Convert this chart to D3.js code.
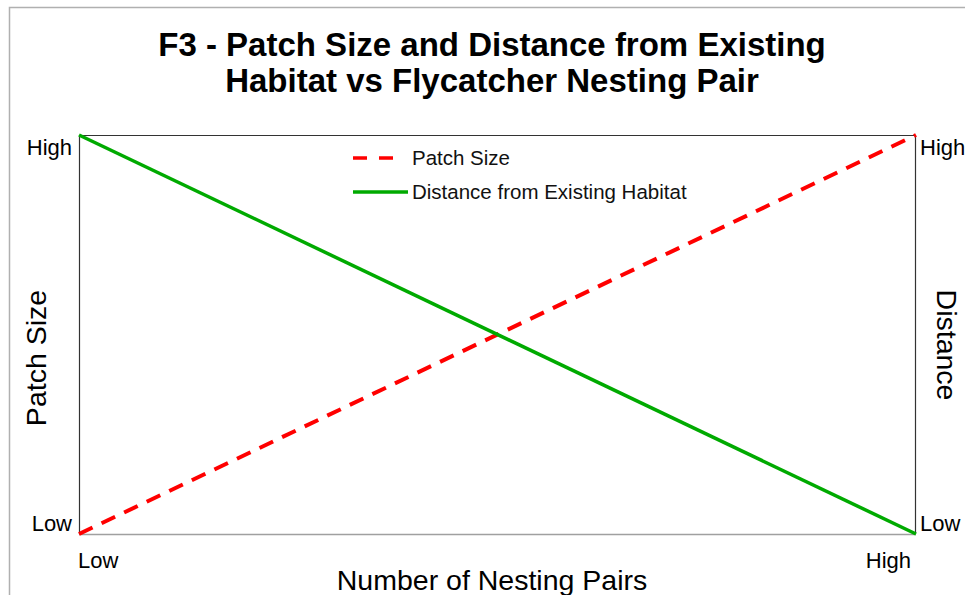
<!DOCTYPE html>
<html>
<head>
<meta charset="utf-8">
<script src="https://cdn.jsdelivr.net/npm/d3@7"></script>
<style>
  html, body { margin: 0; padding: 0; background: #fff; }
  svg { display: block; font-family: "Liberation Sans", Arial, sans-serif; }
</style>
</head>
<body>
<svg id="chart" width="965" height="595"></svg>
<script>
// Categories along the x axis and the two relationships plotted against them
const categories = ["Low", "High"];
const patchSize = [0, 1];
const distance = [1, 0];
const yTickLabels = ["Low", "High"];
const seriesNames = ["Patch Size", "Distance from Existing Habitat"];
const titleLines = ["F3 - Patch Size and Distance from Existing", "Habitat vs Flycatcher Nesting Pair"];

const svg = d3.select("#chart");
const W = 965, H = 595;
const plot = { left: 79, top: 135, right: 916, bottom: 534 };

// outer frame
svg.append("rect")
  .attr("x", 9.5).attr("y", 7.5)
  .attr("width", W + 20).attr("height", H + 20)
  .attr("fill", "#fff").attr("stroke", "#b0b0b0").attr("stroke-width", 1.5);

const x = d3.scalePoint().domain(categories).range([plot.left, plot.right]);
const y = d3.scaleLinear().domain([0, 1]).range([plot.bottom, plot.top]);

// title
svg.append("text")
  .attr("text-anchor", "middle")
  .attr("font-size", 33).attr("font-weight", "bold").attr("fill", "#000")
  .selectAll("tspan").data(titleLines).join("tspan")
  .attr("x", 492).attr("y", (d, i) => 56 + i * 36)
  .text(d => d);

// plot frame
svg.append("line").attr("x1", plot.left).attr("x2", plot.right)
  .attr("y1", plot.bottom + 0.5).attr("y2", plot.bottom + 0.5)
  .attr("stroke", "#a0a0a0").attr("stroke-width", 1.5);
svg.append("path")
  .attr("d", `M${plot.left + 0.5},${plot.bottom}V${plot.top + 0.5}H${plot.right - 0.5}V${plot.bottom}`)
  .attr("fill", "none").attr("stroke", "#333").attr("stroke-width", 1.2);

// y tick labels (left and right)
const tickFont = 22;
const tickDy = i => (i === 0 ? -3 : 20);
svg.selectAll(".ytl").data(yTickLabels).join("text")
  .attr("class", "ytl")
  .attr("x", plot.left - 7).attr("y", (d, i) => y(i) + tickDy(i))
  .attr("text-anchor", "end").attr("font-size", tickFont).text(d => d);
svg.selectAll(".ytr").data(yTickLabels).join("text")
  .attr("class", "ytr")
  .attr("x", plot.right + 4).attr("y", (d, i) => y(i) + tickDy(i))
  .attr("text-anchor", "start").attr("font-size", tickFont).text(d => d);

// x tick labels
svg.selectAll(".xtl").data(categories).join("text")
  .attr("class", "xtl")
  .attr("x", (d, i) => x(d) + (i === 0 ? -1 : -5)).attr("y", 568)
  .attr("text-anchor", (d, i) => i === 0 ? "start" : "end")
  .attr("font-size", tickFont).text(d => d);

// axis titles
svg.append("text").attr("x", 492).attr("y", 590)
  .attr("text-anchor", "middle").attr("font-size", 28.5).text("Number of Nesting Pairs");
svg.append("text")
  .attr("transform", `translate(46,358) rotate(-90)`)
  .attr("text-anchor", "middle").attr("font-size", 28.5).text("Patch Size");
svg.append("text")
  .attr("transform", `translate(937,345) rotate(90)`)
  .attr("text-anchor", "middle").attr("font-size", 28.5).text("Distance");

// lines
const line = d3.line().x((d, i) => x(categories[i])).y(d => y(d));
svg.append("path").datum(patchSize)
  .attr("d", line).attr("fill", "none")
  .attr("stroke", "#ff0000").attr("stroke-width", 4)
  .attr("stroke-dasharray", "15,10");
svg.append("path").datum(distance)
  .attr("d", line).attr("fill", "none")
  .attr("stroke", "#00aa00").attr("stroke-width", 3.5);

// legend
const legend = svg.append("g");
const legendStyles = [
  { color: "#ff0000", dash: "14,12", y: 158, x2: 395 },
  { color: "#00aa00", dash: null, y: 192, x2: 408 }
];
seriesNames.forEach((name, i) => {
  const s = legendStyles[i];
  legend.append("line")
    .attr("x1", 353).attr("x2", s.x2).attr("y1", s.y).attr("y2", s.y)
    .attr("stroke", s.color).attr("stroke-width", 3.5)
    .attr("stroke-dasharray", s.dash);
  legend.append("text")
    .attr("x", 412).attr("y", s.y + 7)
    .attr("font-size", 20.5).attr("fill", "#111").text(name);
});
</script>
</body>
</html>
